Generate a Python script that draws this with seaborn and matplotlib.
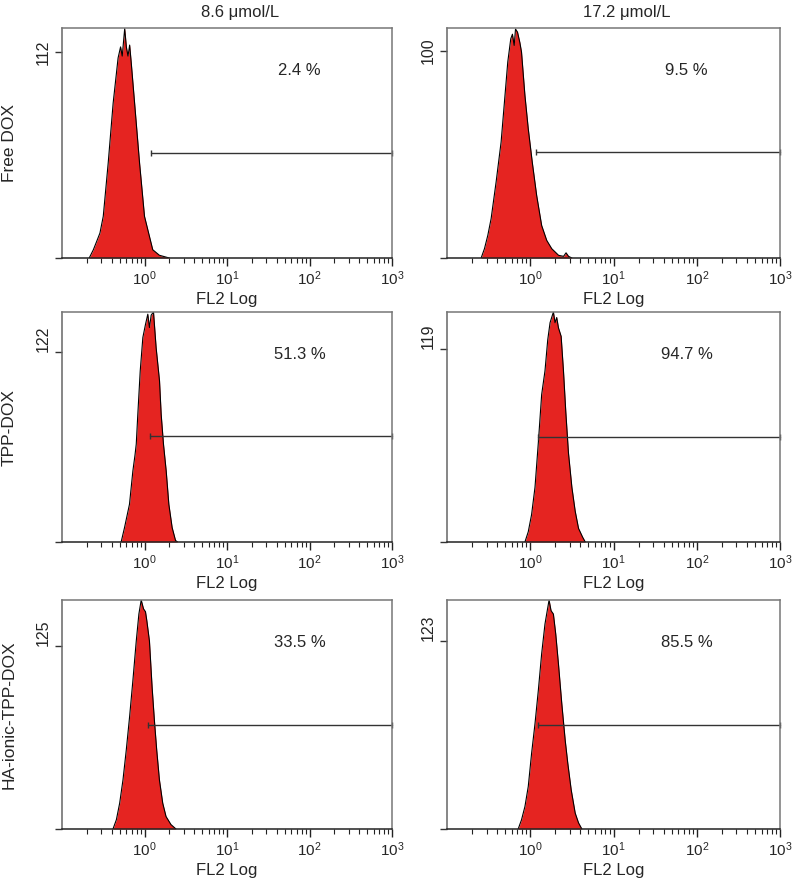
import numpy as np
import matplotlib
matplotlib.use("Agg")
import matplotlib.pyplot as plt
import seaborn as sns
from matplotlib.ticker import LogLocator, NullFormatter

sns.set_style("white")
plt.rcParams["font.family"] = ["Liberation Sans", "DejaVu Sans"]
plt.rcParams["mathtext.fontset"] = "custom"
plt.rcParams["mathtext.rm"] = "Liberation Sans"
plt.rcParams["mathtext.it"] = "Liberation Sans:italic"

# labels
rows = ["Free DOX", "TPP-DOX", "HA-ionic-TPP-DOX"]
cols = ["8.6 μmol/L", "17.2 μmol/L"]

# histograms: log10(FL2) channel and event count
free_lo_log = [-0.67, -0.62, -0.58, -0.54, -0.50, -0.44, -0.38, -0.32, -0.29, -0.27, -0.24,
               -0.22, -0.20, -0.18, -0.16, -0.12, -0.06, 0.00, 0.04, 0.10, 0.18, 0.30]
free_lo_cnt = [0, 4.5, 9, 13.6, 22.7, 51.8, 84.4, 109, 115, 110, 125,
               115, 110, 116, 106, 84.4, 51.8, 22.7, 15.4, 4.5, 1.5, 0]

free_hi_log = [-0.59, -0.55, -0.51, -0.47, -0.41, -0.35, -0.31, -0.27, -0.234, -0.214, -0.193,
               -0.177, -0.153, -0.125, -0.105, -0.064, -0.024, 0.024, 0.077, 0.137, 0.198,
               0.258, 0.34, 0.40, 0.43, 0.46, 0.50]
free_hi_cnt = [0, 4.5, 10.9, 19, 36.7, 56, 75.3, 94.6, 105.8, 108, 102.6,
               110.5, 109, 104, 99.4, 78.5, 62.4, 46.3, 30.2, 15.7, 8.5,
               4.5, 1.3, 0.8, 2.5, 0.8, 0]

tpp_lo_log = [-0.283, -0.242, -0.182, -0.141, -0.115, -0.100, -0.081, -0.052, -0.02, 0.012,
              0.04, 0.06, 0.081, 0.109, 0.141, 0.182, 0.202, 0.23, 0.263, 0.295, 0.335,
              0.376, 0.40]
tpp_lo_cnt = [0, 9.3, 24.3, 45.7, 56, 63, 82.2, 110, 131.6, 140,
              146.6, 138, 146, 148, 125, 103.7, 82.2, 63, 45.7, 24.3, 9.3,
              1, 0]

tpp_hi_log = [-0.064, -0.024, 0.016, 0.057, 0.097, 0.137, 0.177, 0.21, 0.238, 0.278, 0.298,
              0.318, 0.339, 0.371, 0.399, 0.427, 0.459, 0.50, 0.54, 0.58, 0.629, 0.661]
tpp_hi_cnt = [0, 6.3, 16.9, 33.8, 61.3, 91, 105.7, 124.8, 135.4, 142, 135.4,
              138.6, 132.2, 127, 105.7, 80.3, 55, 33.8, 19, 8.4, 3, 0]

ha_lo_log = [-0.382, -0.341, -0.301, -0.261, -0.221, -0.181, -0.141, -0.10, -0.068, -0.04,
             -0.012, 0.012, 0.028, 0.06, 0.092, 0.12, 0.148, 0.181, 0.221, 0.261, 0.321, 0.382]
ha_lo_cnt = [0, 6.3, 17.6, 33.4, 53.8, 76.3, 101, 128, 146.5, 156,
             150, 148, 142, 128, 96.7, 74, 53.8, 33.4, 17.6, 8.5, 3, 0]

ha_hi_log = [-0.145, -0.105, -0.064, -0.024, 0.016, 0.057, 0.097, 0.137, 0.177, 0.226,
             0.25, 0.278, 0.306, 0.339, 0.379, 0.42, 0.451, 0.492, 0.54, 0.58, 0.62]
ha_hi_cnt = [0, 6, 14.7, 27.8, 49.5, 69, 90.8, 114.8, 134.3, 150,
             143, 140.8, 127.8, 108, 82, 58, 43, 25.6, 10.4, 4, 0]

hists = [[(free_lo_log, free_lo_cnt), (free_hi_log, free_hi_cnt)],
         [(tpp_lo_log, tpp_lo_cnt), (tpp_hi_log, tpp_hi_cnt)],
         [(ha_lo_log, ha_lo_cnt), (ha_hi_log, ha_hi_cnt)]]

y_tick = [[112, 100], [122, 119], [125, 123]]
y_top = [[125.3, 111], [148, 142], [156, 150]]
gate_start = [[1.21, 1.18], [1.15, 1.23], [1.10, 1.23]]
gate_level = [[57, 51], [68, 65], [71, 68]]
positive = [["2.4 %", "9.5 %"], ["51.3 %", "94.7 %"], ["33.5 %", "85.5 %"]]

W, H = 800, 885
fig = plt.figure(figsize=(W / 100, H / 100), dpi=100)
row_px = [(28, 258), (312, 542), (600, 829)]
col_px = [(62, 392), (447, 780)]

for i in range(3):
    for j in range(2):
        t, b = row_px[i]
        l, r = col_px[j]
        ax = fig.add_axes([l / W, 1 - b / H, (r - l) / W, (b - t) / H])
        lg, cnt = hists[i][j]
        x = 10 ** np.array(lg)
        ax.fill_between(x, cnt, color="#e52421", lw=0)
        sns.lineplot(x=x, y=cnt, ax=ax, color="black", lw=0.8, errorbar=None)

        # gate marker
        ax.plot([gate_start[i][j], 1000], [gate_level[i][j]] * 2, color="#333333",
                lw=1.0, marker="|", markersize=5, clip_on=False)

        ax.set_xscale("log")
        ax.set_xlim(0.1, 1000)
        ax.set_ylim(0, y_top[i][j])
        ax.set_xticks([1, 10, 100, 1000])
        ax.set_xticklabels([r"$10^0$", r"$10^1$", r"$10^2$", r"$10^3$"])
        ax.xaxis.set_minor_locator(LogLocator(base=10, subs=np.arange(2, 10)))
        ax.xaxis.set_minor_formatter(NullFormatter())
        ax.set_yticks([0, y_tick[i][j]])
        ax.set_yticklabels(["", str(y_tick[i][j])])
        ax.tick_params(axis="x", which="major", direction="out", length=6, width=1,
                       labelsize=11, pad=2, bottom=True, color="#222222")
        ax.tick_params(axis="x", which="minor", direction="out", length=3.5, width=0.8,
                       bottom=True, color="#222222")
        ax.tick_params(axis="y", direction="out", length=5, width=1, labelsize=11.5,
                       pad=3, left=True, labelrotation=90, color="#333333")
        for lab in ax.get_yticklabels():
            lab.set_va("center" if i == 0 else "bottom")
        ax.set_xlabel("FL2 Log", fontsize=12, labelpad=3)
        ax.set_ylabel("")

        ax.text(0.72, 0.815, positive[i][j], transform=ax.transAxes,
                ha="center", va="center", fontsize=12)

        for side in ["top", "right"]:
            ax.spines[side].set_color("#777777")
        ax.spines["left"].set_color("#666666")
        ax.spines["bottom"].set_color("#222222")
        for sp in ax.spines.values():
            sp.set_linewidth(1.1)

        if i == 0:
            ax.set_title(cols[j], x=0.54, pad=8, fontsize=12)
        if j == 0:
            ax.set_ylabel(rows[i], fontsize=12.5)
            ax.yaxis.label.set_va("center")
            ax.yaxis.set_label_coords(-0.16, 0.5)

fig.savefig("out.png", dpi=100)
